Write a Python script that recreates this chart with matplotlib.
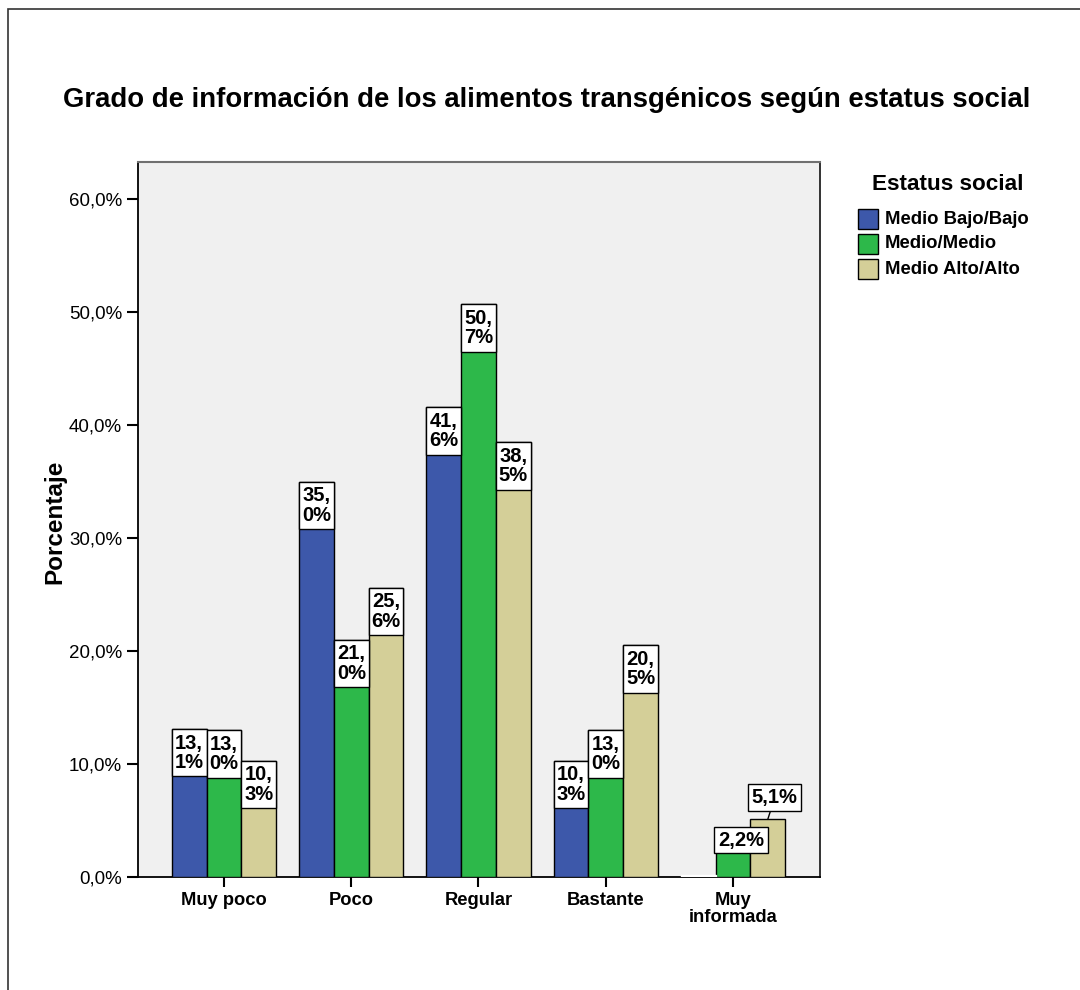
import matplotlib
matplotlib.use("Agg")
import matplotlib.pyplot as plt
from matplotlib.patches import Rectangle
from matplotlib.ticker import FuncFormatter, MultipleLocator
import numpy as np

categories = ["Muy poco", "Poco", "Regular", "Bastante", "Muy\ninformada"]
series_names = ["Medio Bajo/Bajo", "Medio/Medio", "Medio Alto/Alto"]
medio_bajo = [13.1, 35.0, 41.6, 10.3, 0.0]
medio_medio = [13.0, 21.0, 50.7, 13.0, 2.2]
medio_alto = [10.3, 25.6, 38.5, 20.5, 5.1]
series_values = [medio_bajo, medio_medio, medio_alto]
colors = ["#3D58AA", "#2DB84A", "#D4CF98"]
title = "Grado de información de los alimentos transgénicos según estatus social"
ylabel = "Porcentaje"
legend_title = "Estatus social"

FONT = "Liberation Sans"
plt.rcParams["font.family"] = [FONT, "DejaVu Sans"]

W, H = 1080, 990
fig = plt.figure(figsize=(W / 100, H / 100), dpi=100)
fig.patch.set_facecolor("white")

# outer frame (only top and left edges visible)
fig.add_artist(Rectangle((8 / W, -1), 2, 2 - 9 / H, transform=fig.transFigure,
                         fill=False, ec="#333333", lw=1.2))

ax = fig.add_axes([138 / W, 1 - 877 / H, (820 - 138) / W, (877 - 162) / H])
ax.set_facecolor("#F0F0F0")
ax.set_xlim(-0.676, 4.684)
ax.set_ylim(0, 63.3)

bw = 0.2735
x = np.arange(len(categories))
offsets = [-bw, 0, bw]
box_h = 4.2  # label box height in data units (two-line boxes)

# single-line labels for small bars: (category, series) -> (dx px, dy px, leader)
small_offsets = {(4, 1): (8, 12, False), (4, 2): (7, 22, True)}

for si, (vals, off, col) in enumerate(zip(series_values, offsets, colors)):
    for ci, (xi, v) in enumerate(zip(x, vals)):
        if v == 0:
            ax.bar(xi + off, 0.15, width=bw, color="white", edgecolor="white",
                   linewidth=1, zorder=4)
            continue
        ax.bar(xi + off, v, width=bw, color=col, edgecolor="black",
               linewidth=1.0, zorder=3)
        if (ci, si) in small_offsets:
            continue
        txt = f"{v:.1f}".replace(".", ",") + "%"
        a, b = txt.split(",")
        ax.add_patch(Rectangle((xi + off - bw / 2, v - box_h), bw, box_h,
                               fc="white", ec="black", lw=1.0, zorder=5))
        ax.text(xi + off, v - box_h / 2, a + ",\n" + b, ha="center", va="center",
                fontsize=14.5, fontweight="bold", linespacing=1.02, zorder=6)

for (ci, si), (dx, dy, leader) in small_offsets.items():
    v = series_values[si][ci]
    txt = f"{v:.1f}".replace(".", ",") + "%"
    ax.annotate(txt, xy=(x[ci] + offsets[si], v), xytext=(dx, dy),
                textcoords="offset pixels", ha="center", va="center",
                fontsize=14.5, fontweight="bold", zorder=7,
                bbox=dict(boxstyle="square,pad=0.18", fc="white", ec="black", lw=1.0),
                arrowprops=dict(arrowstyle="-", color="black", lw=1.0,
                                shrinkA=0, shrinkB=0) if leader else None)

ax.yaxis.set_major_locator(MultipleLocator(10))
ax.yaxis.set_major_formatter(FuncFormatter(lambda v, p: f"{v:.1f}".replace(".", ",") + "%"))
ax.set_xticks(x)
ax.set_xticklabels(categories, fontsize=13.2, fontweight="bold", linespacing=0.95)
ax.tick_params(axis="y", labelsize=13.5, length=8, width=1.5, pad=3.5, direction="out")
ax.tick_params(axis="x", length=7, width=1.5, pad=4, direction="out")

for s in ["left", "bottom"]:
    ax.spines[s].set_color("black")
    ax.spines[s].set_linewidth(1.3)
ax.spines["top"].set_color("#707070")
ax.spines["top"].set_linewidth(1.5)
ax.spines["right"].set_color("#222222")
ax.spines["right"].set_linewidth(1.3)

fig.text(547 / W, 1 - 100 / H, title, ha="center", va="center",
         fontsize=19.8, fontweight="bold")
fig.text(55 / W, 1 - 522 / H, ylabel, ha="center", va="center", rotation=90,
         fontsize=17.5, fontweight="bold")

# legend
fig.text(948 / W, 1 - 185 / H, legend_title, ha="center", va="center",
         fontsize=16.2, fontweight="bold")
for i, (name, col) in enumerate(zip(series_names, colors)):
    yc = 219 + 25 * i
    fig.add_artist(Rectangle((858 / W, 1 - (yc + 10) / H), 20 / W, 20 / H,
                             transform=fig.transFigure, fc=col, ec="black", lw=1.0))
    fig.text(885 / W, 1 - yc / H, name, ha="left", va="center",
             fontsize=13.3, fontweight="bold")

fig.savefig("out.png", dpi=100)
